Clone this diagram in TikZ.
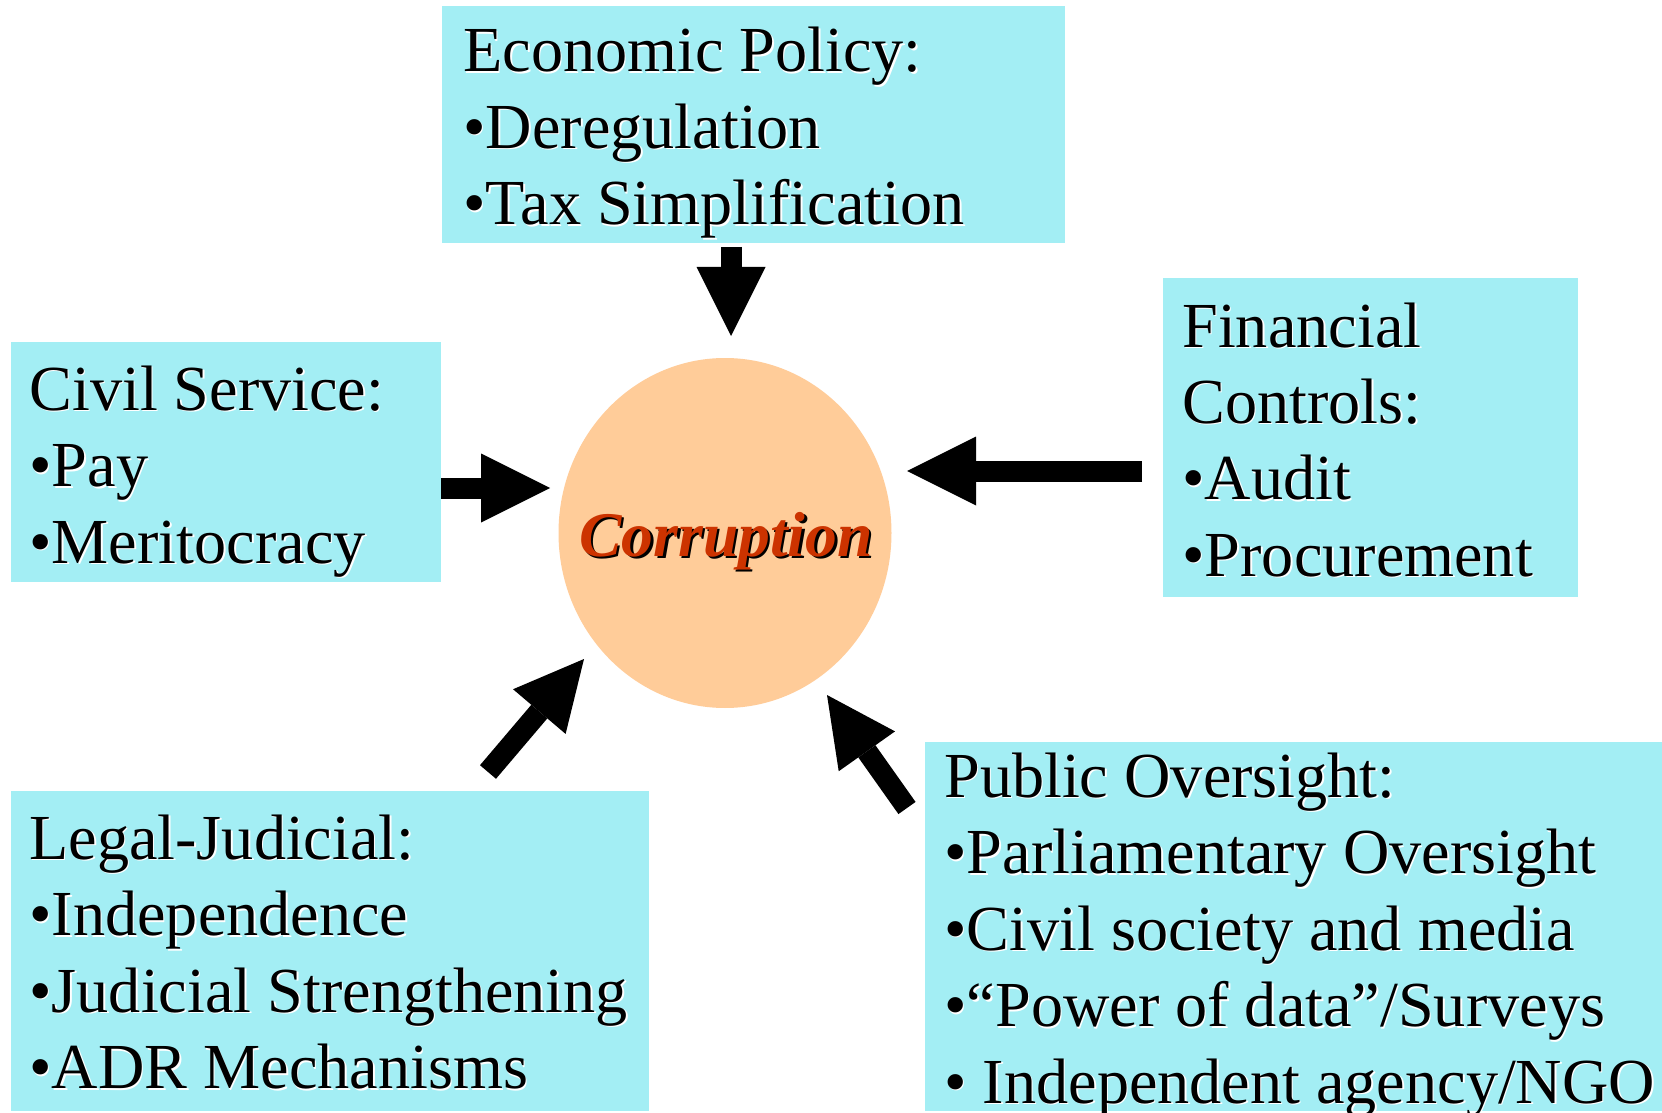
\documentclass[tikz,border=0pt]{standalone}
\usepackage{fontspec}
\setmainfont{Liberation Serif}
\usetikzlibrary{arrows.meta,shapes.geometric}
\definecolor{boxc}{HTML}{A3EEF4}
\definecolor{peach}{HTML}{FFCC99}
\definecolor{corr}{HTML}{CC3300}
\newcommand\wsh[1]{\makebox[0pt][l]{\hspace{0.75pt}\raisebox{-0.75pt}{\color{white}#1}}#1}
\tikzset{
  panel/.style={rectangle, fill=boxc, draw=none, inner sep=0pt},
  paneltext/.style={anchor=base west, inner sep=0pt, font=\fontsize{32.1}{38.25}\selectfont},
  blockarrow/.style={draw=black, line width=10.5pt, line cap=butt,
    -{Triangle[length=34.5pt,width=34.5pt,line width=0pt]}},
}
\begin{document}
\begin{tikzpicture}[x=0.5pt,y=-0.5pt]
\useasboundingbox (0,0) rectangle (1662,1113);
\fill[white] (0,0) rectangle (1662,1113);

% panels
\node[panel, minimum width=311.5pt, minimum height=118.5pt] (econ) at (753.5,124.5) {};
\node[panel, minimum width=215pt, minimum height=120pt] (civil) at (226,462) {};
\node[panel, minimum width=207.5pt, minimum height=159.5pt] (fin) at (1370.5,437.5) {};
\node[panel, minimum width=319pt, minimum height=160pt] (legal) at (330,951) {};
\node[panel, minimum width=368.5pt, minimum height=184.5pt] (public) at (1293.5,926.5) {};

% centre
\node[ellipse, fill=peach, draw=none, inner sep=0pt, minimum width=166.5pt, minimum height=175pt] (core) at (725,533) {};
\node[anchor=base, inner sep=0pt, font=\fontsize{31.8}{38}\selectfont\bfseries\itshape] (corelabel) at (726,556)
  {\makebox[0pt][l]{\hspace{1.25pt}\raisebox{-1.25pt}{\color{black}Corruption}}\textcolor{corr}{Corruption}};

% panel texts
\node[paneltext] (econtxt) at (463,72) {\begin{tabular}[t]{@{}l@{}}
\wsh{Economic Policy:}\\ \wsh{•Deregulation}\\ \wsh{•Tax Simplification}\end{tabular}};
\node[paneltext] (civiltxt) at (29,410) {\begin{tabular}[t]{@{}l@{}}
\wsh{Civil Service:}\\ \wsh{•Pay}\\ \wsh{•Meritocracy}\end{tabular}};
\node[paneltext] (fintxt) at (1182,347) {\begin{tabular}[t]{@{}l@{}}
\wsh{Financial}\\ \wsh{Controls:}\\ \wsh{•Audit}\\ \wsh{•Procurement}\end{tabular}};
\node[paneltext] (legaltxt) at (29,859) {\begin{tabular}[t]{@{}l@{}}
\wsh{Legal-Judicial:}\\ \wsh{•Independence}\\ \wsh{•Judicial Strengthening}\\ \wsh{•ADR Mechanisms}\end{tabular}};
\node[paneltext] (publictxt) at (944,797) {\begin{tabular}[t]{@{}l@{}}
\wsh{Public Oversight:}\\ \wsh{•Parliamentary Oversight}\\ \wsh{•Civil society and media}\\ \wsh{•“Power of data”/Surveys}\\ \wsh{• Independent agency/NGO}\end{tabular}};

% arrows
\coordinate (econTail) at (731,247);
\coordinate (econTip) at (731,336);
\coordinate (civilTail) at (441,488);
\coordinate (civilTip) at (550,488);
\coordinate (finTail) at (1142,471);
\coordinate (finTip) at (907,471);
\coordinate (legalTail) at (488,772);
\coordinate (legalTip) at (584,659);
\coordinate (publicTail) at (907,808);
\coordinate (publicTip) at (827,695);
\draw[blockarrow] (econTail) -- (econTip);
\draw[blockarrow] (civilTail) -- (civilTip);
\draw[blockarrow] (finTail) -- (finTip);
\draw[blockarrow] (legalTail) -- (legalTip);
\draw[blockarrow] (publicTail) -- (publicTip);
\end{tikzpicture}
\end{document}
